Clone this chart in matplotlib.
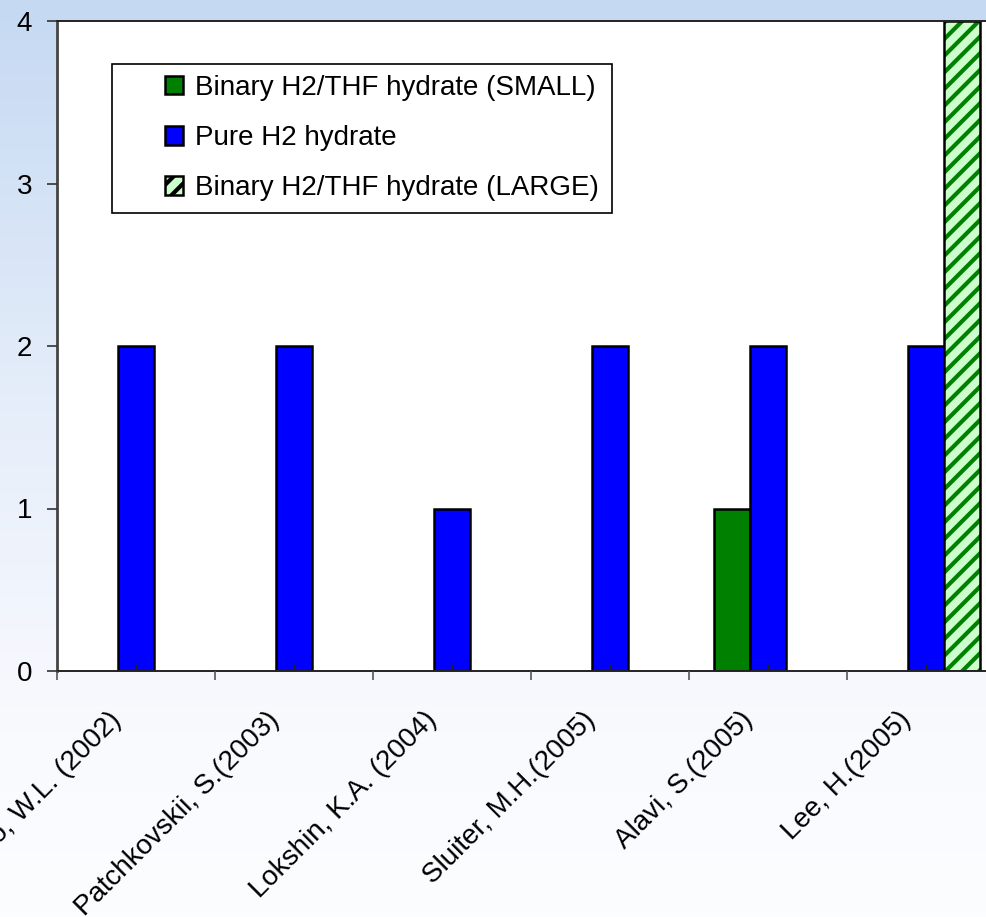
import numpy as np
import matplotlib
matplotlib.use("Agg")
import matplotlib.pyplot as plt
from matplotlib.patches import Patch, Rectangle
from matplotlib.colors import LinearSegmentedColormap

plt.rcParams['font.family'] = ['Liberation Sans', 'DejaVu Sans']
plt.rcParams['hatch.linewidth'] = 3.0

# Data
studies = ["Mao, W.L. (2002)", "Patchkovskii, S.(2003)", "Lokshin, K.A. (2004)",
           "Sluiter, M.H.(2005)", "Alavi, S.(2005)", "Lee, H.(2005)"]
binary_small = [0, 0, 0, 0, 1, 0]
pure_h2 = [2, 2, 1, 2, 2, 2]
binary_large = [0, 0, 0, 0, 0, 4]
y_ticks = [0, 1, 2, 3, 4]

W, H = 987, 917
fig = plt.figure(figsize=(W / 100, H / 100), dpi=100)

# vertical background gradient
bg = fig.add_axes([0, 0, 1, 1], zorder=-10)
cmap = LinearSegmentedColormap.from_list(
    "bg", [(0.0, "#C5D9F2"), (0.45, "#E6EEFA"), (0.8, "#F9FAFE"), (1.0, "#FCFDFF")])
grad = np.linspace(0, 1, 256).reshape(-1, 1)
bg.imshow(grad, aspect="auto", cmap=cmap, extent=[0, 1, 0, 1], origin="upper")
bg.set_axis_off()

left, right, top, bottom = 57, 1005, 21, 671
ax = fig.add_axes([left / W, (H - bottom) / H, (right - left) / W, (bottom - top) / H])
ax.set_facecolor("white")
ax.set_axisbelow(False)

x = np.arange(len(studies))
bw = 0.228


def edges(vals):
    return ["black" if v > 0 else "none" for v in vals]


ax.bar(x - bw, binary_small, bw, color="#008000", edgecolor=edges(binary_small),
       linewidth=1.8, zorder=2)
ax.bar(x, pure_h2, bw, color="#0000FF", edgecolor=edges(pure_h2), linewidth=1.8, zorder=2)
# hatched fill, then black outline
ax.bar(x + bw, binary_large, bw, color="#CCFFCC", edgecolor="#008000", linewidth=0,
       hatch="//", zorder=2)
ax.bar(x + bw, binary_large, bw, fill=False, edgecolor=edges(binary_large),
       linewidth=1.8, zorder=2.1)

ax.set_xlim(-0.5, len(studies) - 0.5)
ax.set_ylim(0, 4)
ax.set_yticks(y_ticks)
ax.set_yticklabels([str(v) for v in y_ticks], fontsize=20)

# category boundaries as major ticks, short inner ticks at centres
ax.set_xticks(np.arange(len(studies) + 1) - 0.5)
ax.set_xticklabels([])
ax.set_xticks(x, minor=True)
ax.set_xticklabels([], minor=True)
ax.tick_params(axis="x", which="major", direction="out", length=6.5, width=1.2, color="#555555")
ax.tick_params(axis="x", which="minor", direction="in", length=5, width=1.0, color="#222222")
ax.tick_params(axis="y", direction="out", length=7, width=1.2, color="#333333", pad=11)

# rotated category labels
for xi, name in zip(x, studies):
    ax.annotate(name, xy=(xi, 0), xycoords=("data", "axes fraction"),
                xytext=(-13.5, -32.5), textcoords="offset points",
                rotation=45, ha="right", va="center", rotation_mode="anchor",
                fontsize=20, annotation_clip=False)

for s in ax.spines.values():
    s.set_color("#222222")
    s.set_linewidth(1.4)
ax.spines["left"].set_color("#444444")
ax.spines["left"].set_linewidth(2.0)

# legend frame
frame = Rectangle((112 / W, (H - 213) / H), (612 - 112) / W, (213 - 64) / H,
                  transform=fig.transFigure, facecolor="white", edgecolor="black",
                  linewidth=1.2, zorder=5)
fig.add_artist(frame)

handles = [
    Patch(facecolor="#008000", edgecolor="black", linewidth=1.8, label="Binary H2/THF hydrate (SMALL)"),
    Patch(facecolor="#0000FF", edgecolor="black", linewidth=1.8, label="Pure H2 hydrate"),
    Patch(facecolor="#CCFFCC", edgecolor="black", linewidth=1.8, hatch="//",
          label="Binary H2/THF hydrate (LARGE)"),
]
leg = fig.legend(handles=handles, loc="upper left",
                 bbox_to_anchor=(151 / W, (H - 61) / H), frameon=False,
                 fontsize=20, handlelength=0.65, handleheight=0.65,
                 handletextpad=0.45, labelspacing=0.87, borderpad=0.0)
leg.set_zorder(6)

fig.savefig("out.png", dpi=100)
